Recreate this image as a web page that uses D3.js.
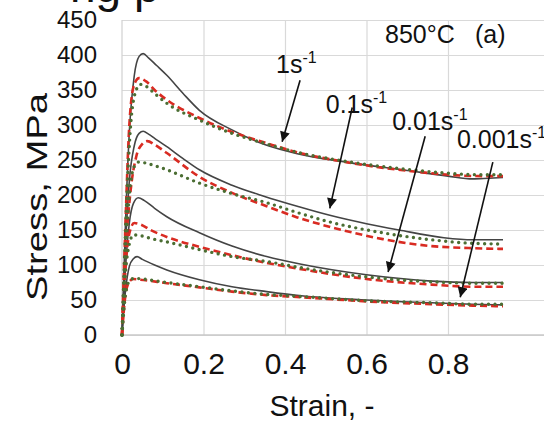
<!DOCTYPE html>
<html lang="en">
<head>
<meta charset="UTF-8">
<title>Stress-strain 850C</title>
<style>
  body { margin: 0; background: #fff; }
  svg { display: block; font-family: "Liberation Sans", Arial, sans-serif; }
  .grid line { stroke: #d9d9d9; stroke-width: 1.2; }
  .grid path { display: none; }
  .tick text { fill: #111; }
</style>
</head>
<body>
<svg id="chart"></svg>
<script src="https://cdnjs.cloudflare.com/ajax/libs/d3/7.9.0/d3.min.js"></script>
<script>
// tick values
const xTicks = [0, 0.2, 0.4, 0.6, 0.8];
const yTicks = [0, 50, 100, 150, 200, 250, 300, 350, 400, 450];

// [strain, stress MPa]
// 1 s^-1
const r1Solid = [[0,0],[0.008,150],[0.018,290],[0.03,370],[0.042,398],[0.052,402],[0.065,396],[0.085,385],[0.11,371],[0.15,345],[0.19,321],[0.27,293],[0.35,272],[0.43,259],[0.55,247],[0.7,235],[0.8,227],[0.86,223],[0.9,224],[0.935,225]];
const r1Dash = [[0,0],[0.008,150],[0.018,300],[0.03,358],[0.042,367],[0.06,362],[0.08,350],[0.11,336],[0.19,310],[0.27,290],[0.355,274],[0.43,261],[0.55,247],[0.71,234],[0.88,227],[0.935,227]];
const r1Dot = [[0,0],[0.008,140],[0.02,290],[0.032,345],[0.045,358],[0.06,355],[0.08,345],[0.11,331],[0.19,307],[0.27,288],[0.355,273],[0.43,261],[0.55,248],[0.71,236],[0.88,229],[0.935,229]];
// 0.1 s^-1
const r01Solid = [[0,0],[0.008,120],[0.018,220],[0.03,270],[0.042,288],[0.052,291],[0.065,287],[0.08,281],[0.11,269],[0.15,252],[0.19,236],[0.27,214],[0.35,198],[0.43,184],[0.51,171],[0.6,159],[0.68,150],[0.79,139],[0.86,136],[0.935,136]];
const r01Dash = [[0,0],[0.008,110],[0.02,200],[0.035,255],[0.05,273],[0.062,277],[0.08,272],[0.11,260],[0.19,226],[0.27,203],[0.355,184],[0.43,168],[0.52,153],[0.64,137],[0.76,127],[0.86,124],[0.935,123]];
const r01Dot = [[0,0],[0.008,110],[0.018,200],[0.028,238],[0.04,247],[0.055,246],[0.08,242],[0.11,236],[0.19,217],[0.27,202],[0.355,189],[0.43,175],[0.52,160],[0.64,146],[0.76,136],[0.86,131],[0.935,130]];
// 0.01 s^-1
const r001Solid = [[0,0],[0.008,90],[0.018,160],[0.028,188],[0.04,196],[0.055,192],[0.08,181],[0.11,169],[0.19,146],[0.27,127],[0.355,112],[0.44,101],[0.6,86],[0.76,77],[0.86,75],[0.935,75]];
const r001Dash = [[0,0],[0.008,90],[0.018,145],[0.03,160],[0.045,158],[0.07,150],[0.11,140],[0.19,126],[0.27,114],[0.355,103],[0.44,94],[0.6,80],[0.76,72],[0.86,69],[0.935,69]];
const r001Dot = [[0,0],[0.008,85],[0.018,130],[0.028,143],[0.045,142],[0.07,138],[0.11,133],[0.19,122],[0.27,112],[0.355,105],[0.44,96],[0.6,83],[0.76,76],[0.86,74],[0.935,74]];
// 0.001 s^-1
const r0001Solid = [[0,0],[0.008,60],[0.018,98],[0.028,109],[0.037,112],[0.05,108],[0.08,100],[0.11,93],[0.19,79],[0.27,69],[0.355,62],[0.44,56],[0.6,50],[0.76,46],[0.86,44],[0.935,43]];
const r0001Dash = [[0,0],[0.008,55],[0.018,76],[0.028,80],[0.045,79],[0.11,74],[0.19,68],[0.27,62],[0.355,57],[0.44,54],[0.6,48],[0.76,44],[0.86,42],[0.935,41]];
const r0001Dot = [[0,0],[0.008,55],[0.018,77],[0.03,81],[0.05,80],[0.11,75],[0.19,69],[0.27,63],[0.355,58],[0.44,55],[0.6,49],[0.76,46],[0.86,44],[0.935,44]];

// strain-rate labels: text, label position (strain, stress), arrow tip (strain, stress)
const rateLabels = ["1s", "0.1s", "0.01s", "0.001s"];
const labelAt = [[0.378, 374], [0.5, 317], [0.663, 293], [0.822, 267]];
const arrowFrom = [[0.437, 364], [0.565, 325], [0.744, 284], [0.91, 247]];
const arrowTo = [[0.393, 276], [0.51, 181], [0.653, 90], [0.83, 54]];

const w = 544, h = 424;
const svg = d3.select("#chart").attr("width", w).attr("height", h);
svg.append("rect").attr("width", w).attr("height", h).attr("fill", "#fff");

const x = d3.scaleLinear().domain([0, 1]).range([122, 529.5]);
const y = d3.scaleLinear().domain([0, 450]).range([335, 20]);

// cropped title bit at the very top
svg.append("text").attr("x", 70).attr("y", 2).attr("font-size", 46).attr("fill", "#111").text("ng p");

// gridlines
svg.append("g").attr("class", "grid")
  .attr("transform", "translate(" + x(0) + ",0)")
  .call(d3.axisRight(y).tickValues(yTicks).tickSize(w - x(0)).tickFormat(""));
svg.append("g").attr("class", "grid")
  .attr("transform", "translate(0," + y(0) + ")")
  .call(d3.axisTop(x).tickValues(xTicks.slice(1)).tickSize(y(0) - y(450)).tickFormat(""));
svg.append("line").attr("x1", x(0)).attr("x2", x(0)).attr("y1", y(0)).attr("y2", y(450)).attr("stroke", "#d0d0d0").attr("stroke-width", 1.2);
svg.append("line").attr("x1", x(0)).attr("x2", w).attr("y1", y(0)).attr("y2", y(0)).attr("stroke", "#c8c8c8").attr("stroke-width", 1.4);

// axes labels
const yAxis = svg.append("g").attr("transform", "translate(" + x(0) + ",0)")
  .call(d3.axisLeft(y).tickValues(yTicks).tickSize(0).tickPadding(25));
yAxis.select(".domain").remove();
yAxis.selectAll("text").attr("font-size", 24).attr("font-family", "Liberation Sans, Arial, sans-serif");

const xAxis = svg.append("g").attr("transform", "translate(0," + y(0) + ")")
  .call(d3.axisBottom(x).tickValues(xTicks).tickFormat(d3.format("")).tickSize(0).tickPadding(18));
xAxis.select(".domain").remove();
xAxis.selectAll("text").attr("font-size", 30).attr("font-family", "Liberation Sans, Arial, sans-serif");

svg.append("text").attr("x", 322).attr("y", 416).attr("text-anchor", "middle")
  .attr("font-size", 30).attr("fill", "#111").text("Strain, -");
svg.append("text").attr("transform", "translate(47,197) rotate(-90)").attr("text-anchor", "middle")
  .attr("font-size", 30).attr("fill", "#111")
  .attr("textLength", 208).attr("lengthAdjust", "spacingAndGlyphs").text("Stress, MPa");

svg.append("text").attr("x", 385).attr("y", 43).attr("font-size", 25).attr("fill", "#111").text("850°C");
svg.append("text").attr("x", 475).attr("y", 43).attr("font-size", 25).attr("fill", "#111").text("(a)");

// curves
const line = d3.line().x(d => x(d[0])).y(d => y(d[1])).curve(d3.curveMonotoneX);
const solids = [r1Solid, r01Solid, r001Solid, r0001Solid];
const dashes = [r1Dash, r01Dash, r001Dash, r0001Dash];
const dots = [r1Dot, r01Dot, r001Dot, r0001Dot];

svg.selectAll(".solid").data(solids).enter().append("path")
  .attr("class", "solid").attr("d", line)
  .attr("fill", "none").attr("stroke", "#444").attr("stroke-width", 1.6);
svg.selectAll(".dash").data(dashes).enter().append("path")
  .attr("class", "dash").attr("d", line)
  .attr("fill", "none").attr("stroke", "#d92b22").attr("stroke-width", 2.6)
  .attr("stroke-dasharray", "7,4");
svg.selectAll(".dot").data(dots).enter().append("path")
  .attr("class", "dot").attr("d", line)
  .attr("fill", "none").attr("stroke", "#4b6e33").attr("stroke-width", 3.4)
  .attr("stroke-linecap", "round").attr("stroke-dasharray", "0,6.5");

// arrows + rate labels
svg.append("defs").append("marker")
  .attr("id", "head").attr("viewBox", "0 0 10 10").attr("refX", 10).attr("refY", 5)
  .attr("markerWidth", 7).attr("markerHeight", 7).attr("markerUnits", "userSpaceOnUse")
  .attr("orient", "auto")
  .append("path").attr("d", "M0,0 L10,5 L0,10 Z").attr("fill", "#111");
d3.select("#head").attr("markerWidth", 12).attr("markerHeight", 10);

rateLabels.forEach((t, i) => {
  svg.append("line")
    .attr("x1", x(arrowFrom[i][0])).attr("y1", y(arrowFrom[i][1]))
    .attr("x2", x(arrowTo[i][0])).attr("y2", y(arrowTo[i][1]))
    .attr("stroke", "#111").attr("stroke-width", 1.6).attr("marker-end", "url(#head)");
  const lab = svg.append("text").attr("x", x(labelAt[i][0])).attr("y", y(labelAt[i][1]))
    .attr("font-size", 25).attr("fill", "#111");
  lab.append("tspan").text(t);
  lab.append("tspan").attr("font-size", 16).attr("dy", -10).text("-1");
});
</script>
</body>
</html>
